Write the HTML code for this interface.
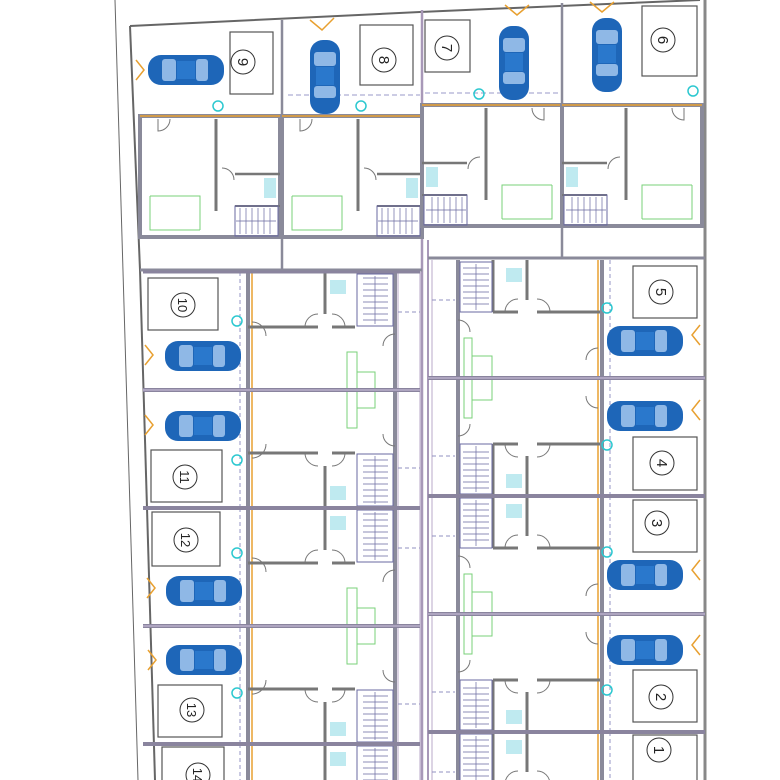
<!DOCTYPE html>
<html><head><meta charset="utf-8"><style>
html,body{margin:0;padding:0;background:#fff;width:780px;height:780px;overflow:hidden}
svg{display:block;overflow:hidden}
text{font-family:"Liberation Sans",sans-serif;fill:#222}
</style></head><body>
<svg width="780" height="780" viewBox="0 0 780 780" xmlns="http://www.w3.org/2000/svg">
<defs>
  <clipPath id="frame"><rect x="0" y="0" width="780" height="780"/></clipPath>
  <g id="carH">
    <rect x="0" y="0" width="76" height="30" rx="13" fill="#1e66b8"/>
    <rect x="14" y="4" width="14" height="22" rx="3" fill="#8fb8e6"/>
    <rect x="48" y="4" width="12" height="22" rx="3" fill="#8fb8e6"/>
    <rect x="29" y="6" width="18" height="18" fill="#2a78cc"/>
  </g>
  <g id="carV">
    <rect x="0" y="0" width="30" height="74" rx="13" fill="#1e66b8"/>
    <rect x="4" y="12" width="22" height="14" rx="3" fill="#8fb8e6"/>
    <rect x="4" y="46" width="22" height="12" rx="3" fill="#8fb8e6"/>
    <rect x="6" y="27" width="18" height="18" fill="#2a78cc"/>
  </g>
  <g id="leftHalf">
    <line x1="248" y1="0" x2="248" y2="118" stroke="#8a8a9a" stroke-width="4"/>
    <line x1="252" y1="0" x2="252" y2="118" stroke="#e8a030" stroke-width="1.5"/>
    <line x1="395" y1="0" x2="395" y2="118" stroke="#8a8a9a" stroke-width="4"/>
    <line x1="248" y1="55" x2="318" y2="55" stroke="#777" stroke-width="3"/>
    <line x1="332" y1="55" x2="355" y2="55" stroke="#777" stroke-width="3"/>
    <line x1="325" y1="0" x2="325" y2="42" stroke="#777" stroke-width="3"/>
    <rect x="357" y="2" width="36" height="52" fill="none" stroke="#6a6aa0" stroke-width="1"/>
    <path d="M363 6H388M363 12H388M363 18H388M363 24H388M363 30H388M363 36H388M363 42H388M363 48H388M375 4V52" stroke="#6a6aa0" stroke-width=".7"/>
    <rect x="330" y="8" width="16" height="14" fill="#bfeaf0"/>
    <path d="M305 55a13 13 0 0 1 13 -13M345 55a13 13 0 0 0 -13 -13" fill="none" stroke="#777" stroke-width="1"/>
    <path d="M395 62a12 12 0 0 0 -12 12" fill="none" stroke="#777" stroke-width="1"/>
    <rect x="347" y="80" width="10" height="38" fill="none" stroke="#7ad07a" stroke-width="1"/>
    <path d="M357 100H375V118" fill="none" stroke="#7ad07a" stroke-width="1"/>
    <path d="M398 0V118M420 0V118" stroke="#b8a8c8" stroke-width="1"/>
    <path d="M398 40H420" stroke="#9090c0" stroke-width="1" stroke-dasharray="4 3"/>
    <line x1="240" y1="0" x2="240" y2="118" stroke="#7a7ab8" stroke-width=".8" stroke-dasharray="4 3"/>
    <path d="M252 50a14 14 0 0 1 14 14" fill="none" stroke="#777" stroke-width="1"/>
  </g>
  <g id="leftPair">
    <use href="#leftHalf"/>
    <use href="#leftHalf" transform="translate(0,236) scale(1,-1)"/>
    <line x1="143" y1="118" x2="420" y2="118" stroke="#8a849e" stroke-width="4"/>
    <line x1="143" y1="118" x2="420" y2="118" stroke="#b9b0cc" stroke-width="1.5"/>
  </g>
  <g id="rightHalf">
    <line x1="458" y1="0" x2="458" y2="118" stroke="#8a8a9a" stroke-width="4"/>
    <line x1="602" y1="0" x2="602" y2="118" stroke="#8a8a9a" stroke-width="4"/>
    <line x1="598" y1="0" x2="598" y2="118" stroke="#e8a030" stroke-width="1.5"/>
    <line x1="493" y1="52" x2="518" y2="52" stroke="#777" stroke-width="3"/>
    <line x1="537" y1="52" x2="600" y2="52" stroke="#777" stroke-width="3"/>
    <line x1="527" y1="0" x2="527" y2="40" stroke="#777" stroke-width="3"/>
    <line x1="493" y1="0" x2="493" y2="52" stroke="#777" stroke-width="3"/>
    <rect x="460" y="2" width="32" height="50" fill="none" stroke="#6a6aa0" stroke-width="1"/>
    <path d="M463 8H489M463 14H489M463 20H489M463 26H489M463 32H489M463 38H489M463 44H489M476 4V50" stroke="#6a6aa0" stroke-width=".7"/>
    <rect x="506" y="8" width="16" height="14" fill="#bfeaf0"/>
    <path d="M505 52a13 13 0 0 1 13 -13M550 52a13 13 0 0 0 -13 -13" fill="none" stroke="#777" stroke-width="1"/>
    <rect x="464" y="78" width="8" height="40" fill="none" stroke="#7ad07a" stroke-width="1"/>
    <path d="M472 96H492V118" fill="none" stroke="#7ad07a" stroke-width="1"/>
    <path d="M458 60a12 12 0 0 1 12 12" fill="none" stroke="#777" stroke-width="1"/>
    <path d="M598 88a12 12 0 0 0 -12 12" fill="none" stroke="#777" stroke-width="1"/>
    <path d="M432 0V118" stroke="#b8a8c8" stroke-width="1"/>
    <path d="M432 40H455" stroke="#9090c0" stroke-width="1" stroke-dasharray="4 3"/>
    <line x1="610" y1="0" x2="610" y2="118" stroke="#7a7ab8" stroke-width=".8" stroke-dasharray="4 3"/>
  </g>
  <g id="rightPair">
    <use href="#rightHalf"/>
    <use href="#rightHalf" transform="translate(0,236) scale(1,-1)"/>
    <line x1="428" y1="118" x2="705" y2="118" stroke="#8a849e" stroke-width="4"/>
    <line x1="428" y1="118" x2="705" y2="118" stroke="#b9b0cc" stroke-width="1.5"/>
  </g>
  <g id="topHouse">
    <rect x="0" y="0" width="140" height="121" fill="none" stroke="#8a8a9a" stroke-width="4"/>
    <line x1="0" y1="0" x2="140" y2="0" stroke="#e8a030" stroke-width="1.5"/>
    <line x1="76" y1="3" x2="76" y2="95" stroke="#777" stroke-width="3"/>
    <line x1="95" y1="58" x2="140" y2="58" stroke="#777" stroke-width="2.5"/>
    <line x1="95" y1="90" x2="140" y2="90" stroke="#777" stroke-width="2"/>
    <rect x="95" y="90" width="43" height="30" fill="none" stroke="#6a6aa0" stroke-width="1"/>
    <path d="M100 92V118M106 92V118M112 92V118M118 92V118M124 92V118M130 92V118M96 105H136" stroke="#6a6aa0" stroke-width=".7"/>
    <rect x="124" y="62" width="12" height="20" fill="#bfeaf0"/>
    <path d="M10 80H60V114" fill="none" stroke="#7ad07a" stroke-width="1"/>
    <path d="M10 80V114H60" fill="none" stroke="#7ad07a" stroke-width="1"/>
    <path d="M18 3v12a12 12 0 0 0 12 -12" fill="none" stroke="#777" stroke-width="1"/>
    <path d="M82 52a12 12 0 0 1 12 12" fill="none" stroke="#777" stroke-width="1"/>
  </g>
</defs>
<g clip-path="url(#frame)">
<line x1="115" y1="0" x2="138" y2="780" stroke="#666" stroke-width="1"/>
<path d="M130 26L420 12L700 0" fill="none" stroke="#666" stroke-width="2"/>
<line x1="130" y1="26" x2="140" y2="270" stroke="#666" stroke-width="2"/>
<line x1="140" y1="270" x2="155" y2="780" stroke="#666" stroke-width="2"/>
<line x1="705" y1="0" x2="705" y2="780" stroke="#888" stroke-width="3"/>
<line x1="282" y1="20" x2="282" y2="270" stroke="#8a8a9a" stroke-width="2.5"/>
<line x1="422" y1="10" x2="422" y2="780" stroke="#a898b8" stroke-width="2.5"/>
<line x1="428" y1="240" x2="428" y2="780" stroke="#a898b8" stroke-width="2"/>
<line x1="562" y1="3" x2="562" y2="258" stroke="#8a8a9a" stroke-width="2.5"/>

<use href="#topHouse" transform="translate(140,116)"/>
<use href="#topHouse" transform="translate(282,116)"/>
<use href="#topHouse" transform="translate(562,105) scale(-1,1)"/>
<use href="#topHouse" transform="translate(702,105) scale(-1,1)"/>
<line x1="140" y1="270" x2="422" y2="270" stroke="#8a8a9a" stroke-width="3"/>
<line x1="428" y1="258" x2="705" y2="258" stroke="#8a8a9a" stroke-width="3"/>
<line x1="288" y1="95" x2="420" y2="95" stroke="#7a7ab8" stroke-width=".8" stroke-dasharray="5 3"/>
<line x1="425" y1="93" x2="560" y2="93" stroke="#7a7ab8" stroke-width=".8" stroke-dasharray="5 3"/>
<path d="M310 20l12 10l12 -12M505 5l12 10l12 -10M590 2l12 10l12 -10" fill="none" stroke="#e8a030" stroke-width="1.5"/>
<path d="M136 60l8 10l-8 10" fill="none" stroke="#e8a030" stroke-width="1.5"/>

<rect x="230" y="32" width="43" height="62" fill="none" stroke="#555" stroke-width="1.2"/>
<rect x="360" y="25" width="53" height="60" fill="none" stroke="#555" stroke-width="1.2"/>
<rect x="425" y="20" width="45" height="52" fill="none" stroke="#555" stroke-width="1.2"/>
<rect x="642" y="6" width="55" height="70" fill="none" stroke="#555" stroke-width="1.2"/>

<use href="#leftPair" transform="translate(0,272)"/>
<use href="#leftPair" transform="translate(0,508)"/>
<use href="#leftHalf" transform="translate(0,744)"/>
<line x1="143" y1="272" x2="420" y2="272" stroke="#8a849e" stroke-width="3"/>
<line x1="143" y1="508" x2="420" y2="508" stroke="#8a849e" stroke-width="4"/>
<line x1="143" y1="744" x2="420" y2="744" stroke="#8a849e" stroke-width="4"/>
<use href="#rightPair" transform="translate(0,260)"/>
<use href="#rightPair" transform="translate(0,496)"/>
<use href="#rightHalf" transform="translate(0,732)"/>
<line x1="428" y1="496" x2="705" y2="496" stroke="#8a849e" stroke-width="4"/>
<line x1="428" y1="732" x2="705" y2="732" stroke="#8a849e" stroke-width="4"/>

<path d="M145 345l8 10l-8 10M145 415l8 10l-8 10M147 578l8 10l-8 10M148 650l8 10l-8 10" fill="none" stroke="#e8a030" stroke-width="1.5"/>
<path d="M700 325l-8 10l8 10M700 400l-8 10l8 10M700 560l-8 10l8 10M700 635l-8 10l8 10" fill="none" stroke="#e8a030" stroke-width="1.5"/>

<rect x="148" y="278" width="70" height="52" fill="none" stroke="#555" stroke-width="1.2"/>
<rect x="151" y="450" width="71" height="52" fill="none" stroke="#555" stroke-width="1.2"/>
<rect x="152" y="512" width="68" height="54" fill="none" stroke="#555" stroke-width="1.2"/>
<rect x="158" y="685" width="64" height="52" fill="none" stroke="#555" stroke-width="1.2"/>
<rect x="162" y="747" width="62" height="40" fill="none" stroke="#555" stroke-width="1.2"/>
<rect x="633" y="266" width="64" height="52" fill="none" stroke="#555" stroke-width="1.2"/>
<rect x="633" y="437" width="64" height="53" fill="none" stroke="#555" stroke-width="1.2"/>
<rect x="633" y="500" width="64" height="52" fill="none" stroke="#555" stroke-width="1.2"/>
<rect x="633" y="670" width="64" height="52" fill="none" stroke="#555" stroke-width="1.2"/>
<rect x="633" y="735" width="64" height="50" fill="none" stroke="#555" stroke-width="1.2"/>

<g fill="none" stroke="#333" stroke-width="1">
<circle cx="243" cy="62" r="12"/><circle cx="384" cy="60" r="12"/><circle cx="447" cy="48" r="12"/><circle cx="663" cy="40" r="12"/>
<circle cx="183" cy="305" r="12"/><circle cx="185" cy="477" r="12"/><circle cx="186" cy="540" r="12"/><circle cx="192" cy="710" r="12"/><circle cx="198" cy="775" r="12"/>
<circle cx="661" cy="292" r="12"/><circle cx="662" cy="463" r="12"/><circle cx="657" cy="523" r="12"/><circle cx="661" cy="697" r="12"/><circle cx="659" cy="750" r="12"/>
</g>
<g font-size="15" text-anchor="middle">
<text transform="translate(243,62) rotate(90)" y="5">9</text>
<text transform="translate(384,60) rotate(90)" y="5">8</text>
<text transform="translate(447,48) rotate(90)" y="5">7</text>
<text transform="translate(663,40) rotate(90)" y="5">6</text>
<text transform="translate(183,305) rotate(90)" y="5" font-size="13">10</text>
<text transform="translate(185,477) rotate(90)" y="5" font-size="13">11</text>
<text transform="translate(186,540) rotate(90)" y="5" font-size="13">12</text>
<text transform="translate(192,710) rotate(90)" y="5" font-size="13">13</text>
<text transform="translate(198,775) rotate(90)" y="5" font-size="13">14</text>
<text transform="translate(661,292) rotate(90)" y="5">5</text>
<text transform="translate(662,463) rotate(90)" y="5">4</text>
<text transform="translate(657,523) rotate(90)" y="5">3</text>
<text transform="translate(661,697) rotate(90)" y="5">2</text>
<text transform="translate(659,750) rotate(90)" y="5">1</text>
</g>

<g fill="none" stroke="#2cc8d0" stroke-width="1.5">
<circle cx="218" cy="106" r="5"/><circle cx="361" cy="106" r="5"/><circle cx="479" cy="94" r="5"/><circle cx="693" cy="91" r="5"/>
<circle cx="237" cy="321" r="5"/><circle cx="237" cy="460" r="5"/><circle cx="237" cy="553" r="5"/><circle cx="237" cy="693" r="5"/>
<circle cx="607" cy="308" r="5"/><circle cx="607" cy="445" r="5"/><circle cx="607" cy="552" r="5"/><circle cx="607" cy="690" r="5"/>
</g>

<use href="#carH" x="148" y="55"/>
<use href="#carV" x="310" y="40"/>
<use href="#carV" x="499" y="26"/>
<use href="#carV" x="592" y="18"/>
<use href="#carH" x="165" y="341"/>
<use href="#carH" x="165" y="411"/>
<use href="#carH" x="166" y="576"/>
<use href="#carH" x="166" y="645"/>
<use href="#carH" x="607" y="326"/>
<use href="#carH" x="607" y="401"/>
<use href="#carH" x="607" y="560"/>
<use href="#carH" x="607" y="635"/>
</g>
</svg>
</body></html>
